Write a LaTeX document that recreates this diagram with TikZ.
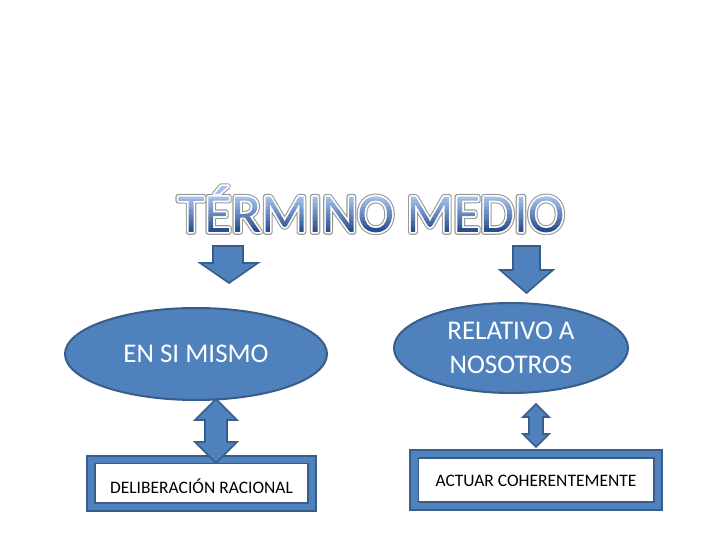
\documentclass[tikz,border=0pt]{standalone}
\usepackage{fontspec}
\setmainfont{Carlito}
\usetikzlibrary{shapes.geometric}
\definecolor{obl}{HTML}{4F81BD}
\definecolor{odk}{HTML}{385D8A}
\tikzset{
  bub/.style={ellipse, fill=obl, draw=odk, line width=2pt, text=white, align=center, font=\fontsize{27}{34}\selectfont, inner sep=0pt},
  blockar/.style={fill=obl, draw=odk, line width=1.6pt, line join=miter},
  frameout/.style={fill=obl, draw=odk, line width=1.6pt},
  framein/.style={fill=white, draw=odk, line width=1.2pt},
  lbl/.style={font=\fontsize{17.5}{20}\selectfont, text=black, inner sep=0pt},
  ttlsty/.style={anchor=base, inner sep=0pt, font=\fontsize{55}{55}\selectfont}
}
\newcommand{\ttltext}{TÉRMINO MEDIO}
\newcommand{\ttlgrad}{\special{pdf:literal 0.165 0.310 0.560 rg -420 -20 440 23.8 re f 0.218 0.360 0.601 rg -420 3.6 440 3.8 re f 0.271 0.410 0.641 rg -420 7.2 440 3.8 re f 0.324 0.460 0.682 rg -420 10.8 440 3.8 re f 0.377 0.510 0.722 rg -420 14.4 440 3.8 re f 0.431 0.561 0.763 rg -420 18.0 440 3.8 re f 0.484 0.611 0.803 rg -420 21.6 440 3.8 re f 0.537 0.661 0.844 rg -420 25.2 440 3.8 re f 0.590 0.711 0.884 rg -420 28.8 440 3.8 re f 0.643 0.761 0.925 rg -420 32.4 440 30 re f}}
\begin{document}
\begin{tikzpicture}[x=1pt,y=-1pt]
\useasboundingbox (0,0) rectangle (720,540);
% title: gray outer outline, then white outline + gradient fill clipped to glyphs
\node[ttlsty] (titleout) at (371,232) {\special{pdf:literal direct 1 j 5.6 w 0.6 0.6 0.6 RG 1 Tr}\ttltext\special{pdf:literal direct 0 Tr}};
\node[ttlsty] (title) at (371,232) {\special{pdf:literal direct 1 j 3.4 w 1 1 1 RG 5 Tr}\ttltext\special{pdf:literal direct 0 Tr}\ttlgrad};
% down block arrows
\draw[blockar] (213,246) -- (243,246) -- (243,263) -- (258,263) -- (229,283) -- (200,263) -- (213,263) -- cycle;
\draw[blockar] (513,246) -- (540,246) -- (540,270) -- (553,270) -- (526.5,293) -- (500,270) -- (513,270) -- cycle;
% ellipses
\node[bub, minimum width=262pt, minimum height=92pt] (e1) at (196,354) {EN SI MISMO};
\node[bub, minimum width=234pt, minimum height=90pt] (e2) at (511,348) {RELATIVO A\\NOSOTROS};
% frames
\draw[frameout] (87,456) rectangle (316,511);
\draw[framein] (95,463.5) rectangle (308,503);
\node[lbl] (r1) at (201.5,486) {DELIBERACIÓN RACIONAL};
\draw[frameout] (410,450) rectangle (662,510);
\draw[framein] (418.5,458) rectangle (654,502);
\node[lbl] (r2) at (536,481) {ACTUAR COHERENTEMENTE};
% double arrows
\draw[blockar] (216,399) -- (237,420) -- (227,420) -- (227,442) -- (237,442) -- (216,463) -- (195,442) -- (205,442) -- (205,420) -- (195,420) -- cycle;
\draw[blockar] (536,404) -- (549,417) -- (543,417) -- (543,434) -- (549,434) -- (536,447) -- (523,434) -- (529,434) -- (529,417) -- (523,417) -- cycle;
\end{tikzpicture}
\end{document}
